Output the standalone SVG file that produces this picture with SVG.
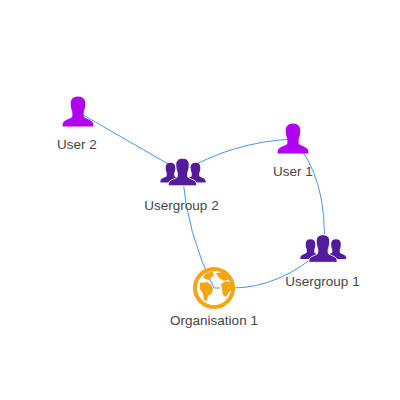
<svg xmlns="http://www.w3.org/2000/svg" width="400" height="400" viewBox="0 0 400 400">
<style>
.c{fill:none;stroke:#4a93f0;stroke-width:1}
.l{font-family:"Liberation Sans",Arial,sans-serif;font-size:13.5px;fill:#444;text-anchor:middle}
.u{fill:#b000f0}
.g{fill:#541c9c}
.o{fill:#f5a50f}
</style>
<defs>
<path id="p" d="M0-15.500C-5-15.500-7.300-12.500-7.300-8.500C-7.300-5-6.500-2-5.800-.5C-5.500 1-5.500 3-5.800 5C-8 7-12.500 7.500-14.500 10C-15.300 11.200-15.500 13-15.500 14.500L15.500 14.500C15.500 13 15.300 11.200 14.500 10C12.500 7.500 8 7 5.800 5C5.500 3 5.500 1 5.800-.5C6.500-2 7.300-5 7.300-8.500C7.300-12.500 5-15.500 0-15.500Z"/>
</defs>
<g id="connectors">
<path class="c" d="M78 112L182 172"/>
<path class="c" d="M182 172Q232 142 293 139"/>
<path class="c" d="M293 139Q328 178 324 249"/>
<path class="c" d="M182 172Q187 235 214 288"/>
<path class="c" d="M214 288L220 288"/>
<path class="c" d="M232 288Q280 288 323 249"/>
</g>
<g id="user2"><use href="#p" class="u" x="78" y="112"/><text class="l" x="77" y="149">User 2</text></g>
<g id="user1"><use href="#p" class="u" x="293" y="139"/><text class="l" x="293" y="176">User 1</text></g>
<g id="usergroup2">
<use href="#p" class="g" transform="translate(170.500 173) scale(.66)"/>
<use href="#p" class="g" transform="translate(195.500 173) scale(.66)"/>
<use href="#p" class="g" stroke="#fff" stroke-width="1" transform="translate(182.500 172.500) scale(.92)"/>
<text class="l" x="181.500" y="210">Usergroup 2</text></g>
<g id="usergroup1">
<use href="#p" class="g" transform="translate(310.500 249.500) scale(.66)"/>
<use href="#p" class="g" transform="translate(336 249.500) scale(.66)"/>
<use href="#p" class="g" stroke="#fff" stroke-width="1" transform="translate(323 249) scale(.92)"/>
<text class="l" x="322.500" y="286">Usergroup 1</text></g>
<g id="organisation1">
<path class="o" fill-rule="evenodd" d="M214 267a21 21 0 1 0 .01 0ZM214 271a17 17 0 1 1-.01 0Z"/>
<path class="o" d="M200 283L207 282L211 285L213 289L212 293L208 296L207 301L204 300L203 294L200 289Z"/>
<path class="o" d="M221 284L226 281L233 283L232 289L229 292L226 297L223 295L222 290Z"/>
<path class="o" d="M216 273L224 272L230 279L224 281L219 278Z"/>
<path class="o" d="M205 274L212 271L214 275L209 280L205 279L203 277Z"/>
<text class="l" x="214" y="325">Organisation 1</text></g>
</svg>
